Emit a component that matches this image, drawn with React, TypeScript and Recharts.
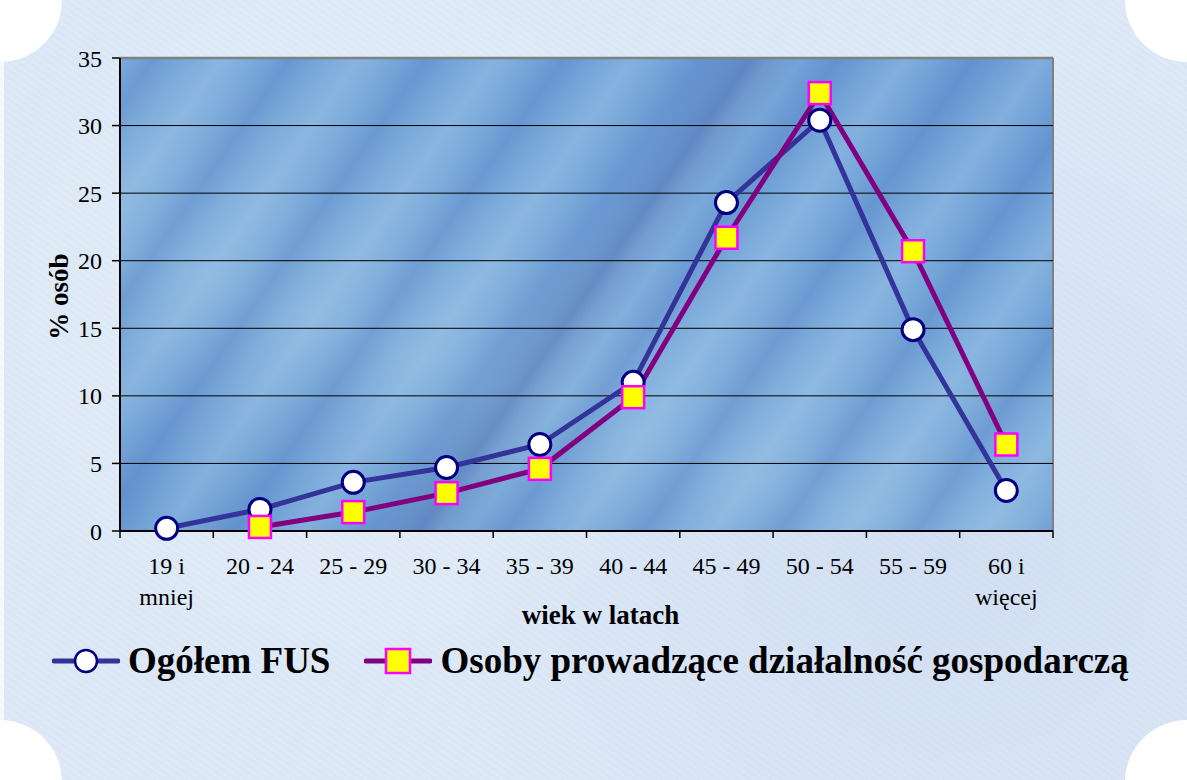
import React from 'react';
import { ComposedChart, Line, XAxis, YAxis, CartesianGrid, ReferenceLine } from 'recharts';

const categories = ['19 i\nmniej', '20 - 24', '25 - 29', '30 - 34', '35 - 39', '40 - 44', '45 - 49', '50 - 54', '55 - 59', '60 i\nwięcej'];
const fusValues = [0.2, 1.6, 3.6, 4.7, 6.4, 11.0, 24.3, 30.4, 14.9, 3.0];
const osobyValues: (number | null)[] = [null, 0.3, 1.4, 2.8, 4.6, 9.9, 21.7, 32.4, 20.7, 6.4];
const yTicks = [0, 5, 10, 15, 20, 25, 30, 35];
const seriesNames = ['Ogółem FUS', 'Osoby prowadzące działalność gospodarczą'];
const yTitle = '% osób';
const xTitle = 'wiek w latach';

const data = categories.map((c, i) => ({ cat: c, fus: fusValues[i], osoby: osobyValues[i] }));

const FONT = '"Liberation Serif", "Times New Roman", "DejaVu Serif", serif';
const FUS_LINE = '#333399';
const FUS_DOT = '#000080';
const OS_LINE = '#800080';
const OS_FILL = '#ffff00';
const OS_BORDER = '#ff00ff';

const XTick = (props: any) => {
  const { x, y, payload, index, width, visibleTicksCount } = props;
  const step = (width || 933) / (visibleTicksCount || categories.length);
  const lines = String(payload.value).split('\n');
  return (
    <g>
      <line x1={x - step / 2} x2={x - step / 2} y1={y} y2={y + 7} stroke="#000" strokeWidth={1.5} />
      {index === (visibleTicksCount || categories.length) - 1 && (
        <line x1={x + step / 2} x2={x + step / 2} y1={y} y2={y + 7} stroke="#000" strokeWidth={1.5} />
      )}
      {lines.map((l, i) => (
        <text key={i} x={x} y={y + 43 + i * 31} textAnchor="middle" fontFamily={FONT} fontSize={24} fill="#000">
          {l}
        </text>
      ))}
    </g>
  );
};

const FusDot = (props: any) => {
  const { cx, cy, value } = props;
  if (value == null || cx == null || cy == null) return <g />;
  return <circle cx={cx} cy={cy} r={11} fill="#fff" stroke={FUS_DOT} strokeWidth={3} />;
};

const OsDot = (props: any) => {
  const { cx, cy, value } = props;
  if (value == null || cx == null || cy == null) return <g />;
  return <rect x={cx - 11} y={cy - 11} width={22} height={22} fill={OS_FILL} stroke={OS_BORDER} strokeWidth={2.5} />;
};

const pageBg: React.CSSProperties = {
  position: 'absolute',
  left: 0,
  top: 0,
  width: 1187,
  height: 780,
  overflow: 'hidden',
  background:
    'radial-gradient(circle at 30% 40%, rgba(255,255,255,0.25) 0, rgba(255,255,255,0) 40%),' +
    'radial-gradient(circle at 80% 70%, rgba(190,205,235,0.35) 0, rgba(190,205,235,0) 45%),' +
    'repeating-linear-gradient(35deg, rgba(255,255,255,0.12) 0px, rgba(255,255,255,0) 3px, rgba(200,210,235,0.12) 6px),' +
    '#dce8f6',
};

const plotBg: React.CSSProperties = {
  position: 'absolute',
  left: 120,
  top: 58,
  width: 934,
  height: 473,
  boxSizing: 'border-box',
  borderRight: '2px solid #808080',
  background:
    'linear-gradient(125deg, rgba(255,255,255,0) 0%, rgba(255,255,255,0) 46%, rgba(40,70,150,0.35) 50%, rgba(255,255,255,0) 54%),' +
    'repeating-linear-gradient(125deg, rgba(50,90,180,0) 0px, rgba(50,90,180,0.22) 28px, rgba(50,90,180,0) 56px, rgba(190,220,245,0.22) 84px, rgba(190,220,245,0) 112px),' +
    'linear-gradient(200deg, #6f9fd6 0%, #79a9da 35%, #86b3dd 65%, #6c9dd3 100%)',
};

const corner = (pos: React.CSSProperties): React.CSSProperties => ({
  position: 'absolute',
  width: 124,
  height: 124,
  borderRadius: '50%',
  background: '#fff',
  ...pos,
});

const LegendIcon = ({ kind }: { kind: number }) => (
  <svg width={68} height={28} style={{ display: 'block' }}>
    <line x1={2} x2={66} y1={14} y2={14} stroke={kind === 0 ? FUS_LINE : OS_LINE} strokeWidth={5} strokeLinecap="round" />
    {kind === 0 ? (
      <circle cx={34} cy={14} r={11} fill="#fff" stroke={FUS_DOT} strokeWidth={2.5} />
    ) : (
      <rect x={22} y={2} width={24} height={24} fill={OS_FILL} stroke={OS_BORDER} strokeWidth={2.5} />
    )}
  </svg>
);

export default function App() {
  return (
    <div style={pageBg}>
      <div style={plotBg} />
      <div style={corner({ left: -62, top: -62 })} />
      <div style={corner({ right: -62, top: -62 })} />
      <div style={corner({ left: -62, bottom: -64 })} />
      <div style={corner({ right: -62, bottom: -64 })} />
      <div style={{ position: 'absolute', left: 0, top: 0, width: 4, height: 780, background: 'rgba(255,255,255,0.7)' }} />
      <div style={{ position: 'absolute', left: 0, top: 0 }}>
        <ComposedChart width={1187} height={780} data={data} margin={{ top: 58, right: 134, bottom: 169, left: 60 }}>
          <CartesianGrid vertical={false} stroke="#000" strokeWidth={1} fill="none" />
          <XAxis
            dataKey="cat"
            scale="band"
            height={80}
            interval={0}
            tickLine={false}
            tickSize={0}
            tickMargin={0}
            axisLine={{ stroke: '#000', strokeWidth: 2 }}
            tick={<XTick />}
            label={{
              content: (p: any) => {
                const vb = p.viewBox || { x: 120, y: 531, width: 933 };
                return (
                  <text x={vb.x + vb.width / 2 + 14} y={vb.y + 93} textAnchor="middle" fontFamily={FONT} fontWeight="bold" fontSize={27} fill="#000">
                    {xTitle}
                  </text>
                );
              },
            }}
          />
          <YAxis
            domain={[0, 35]}
            ticks={yTicks}
            width={60}
            tickSize={8}
            tickMargin={10}
            tickLine={{ stroke: '#000', strokeWidth: 1.5 }}
            axisLine={{ stroke: '#000', strokeWidth: 2 }}
            tick={{ fontFamily: FONT, fontSize: 24, fill: '#000' }}
            label={{
              content: (p: any) => {
                const vb = p.viewBox || { x: 60, y: 58, width: 60, height: 473 };
                const cx = vb.x - 1;
                const cy = vb.y + vb.height / 2 + 2;
                return (
                  <text x={cx} y={cy} transform={`rotate(-90 ${cx} ${cy})`} textAnchor="middle" dominantBaseline="central" fontFamily={FONT} fontWeight="bold" fontSize={27} fill="#000">
                    {yTitle}
                  </text>
                );
              },
            }}
          />
          <ReferenceLine y={35} stroke="#808080" strokeWidth={2.5} />
          <Line
            dataKey="fus"
            name={seriesNames[0]}
            stroke={FUS_LINE}
            strokeWidth={5}
            dot={<FusDot />}
            activeDot={false}
            isAnimationActive={false}
          />
          <Line
            dataKey="osoby"
            name={seriesNames[1]}
            stroke={OS_LINE}
            strokeWidth={5}
            dot={<OsDot />}
            activeDot={false}
            connectNulls={false}
            isAnimationActive={false}
          />
        </ComposedChart>
      </div>
      <div style={{ position: 'absolute', left: 52, top: 640, height: 42, display: 'flex', alignItems: 'center', fontFamily: FONT, fontWeight: 'bold', fontSize: 37, lineHeight: '42px', color: '#000', whiteSpace: 'nowrap' }}>
        {seriesNames.map((n, i) => (
          <div key={n} style={{ display: 'flex', alignItems: 'center', marginRight: i === 0 ? 34 : 0 }}>
            <LegendIcon kind={i} />
            <span style={{ marginLeft: 8 }}>{n}</span>
          </div>
        ))}
      </div>
    </div>
  );
}
